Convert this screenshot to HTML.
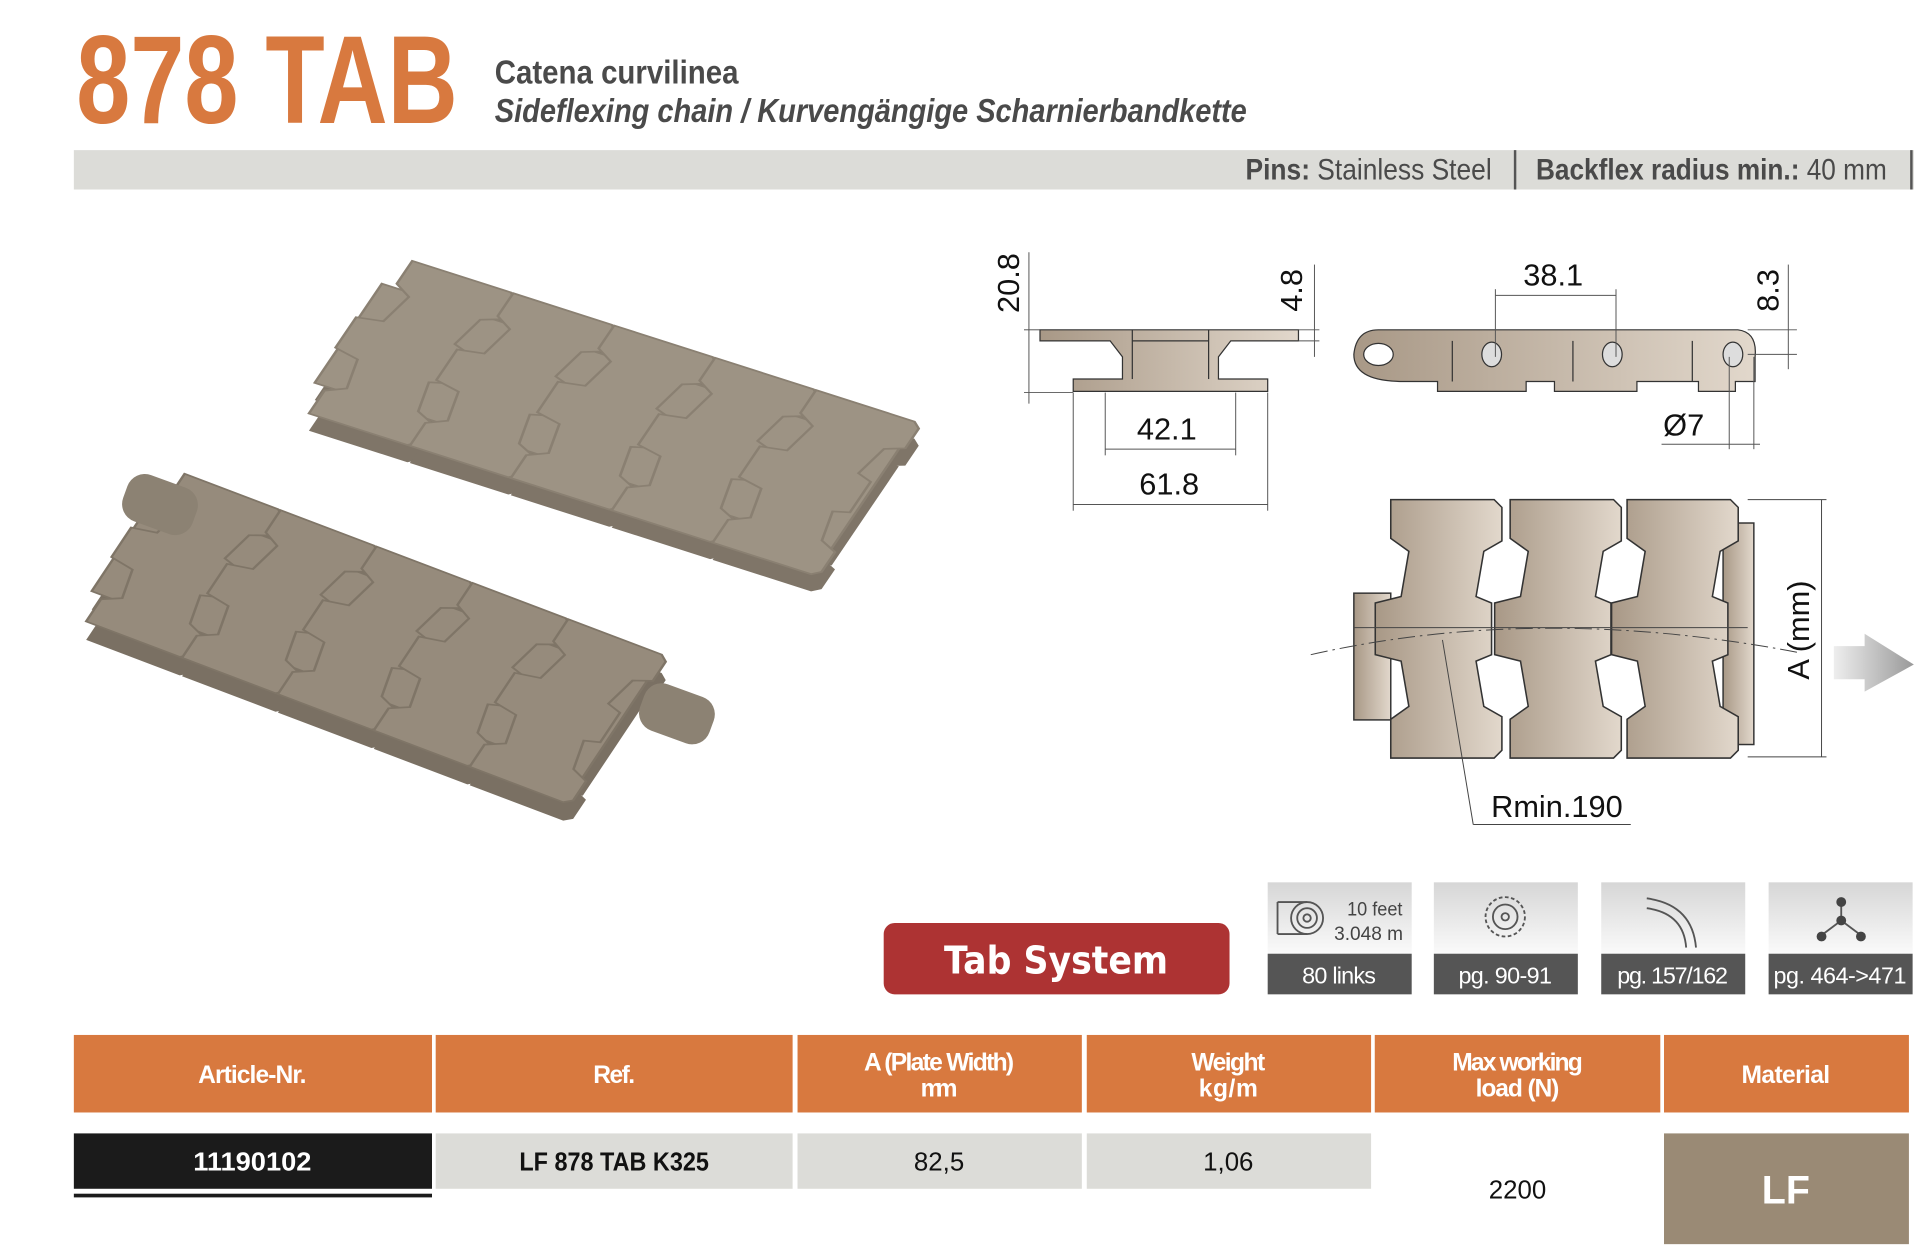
<!DOCTYPE html>
<html><head><meta charset="utf-8"><style>
html,body{margin:0;padding:0;background:#fff;}
svg{display:block}
.c{font-family:"Liberation Sans Narrow","Liberation Sans",sans-serif;}
.d{font-family:"Liberation Sans",sans-serif;fill:#111;font-size:25px;}
</style></head><body>
<svg width="1920" height="1254" viewBox="0 0 1560 1019" preserveAspectRatio="none" xmlns="http://www.w3.org/2000/svg">
<defs>
<path id="pl" d="M0,0 H80 L86,6 V32 L72,40 L66,75 L78,80 V120 L66,125 L72,160 L86,168 V194 L80,200 H0 V170 L14,160 L8,125 L-12,120 V80 L8,75 L14,40 L0,30 Z"/>
<g id="chain">
<rect x="-10" y="35" width="420" height="130" />
<use href="#pl" x="0"/><use href="#pl" x="82"/><use href="#pl" x="164"/><use href="#pl" x="246"/><use href="#pl" x="328"/>
</g>
<linearGradient id="pg" x1="0" x2="1"><stop offset="0" stop-color="#a89886"/><stop offset="1" stop-color="#e2d8cc"/></linearGradient>
<linearGradient id="ig" x1="0" y1="0" x2="0" y2="1"><stop offset="0" stop-color="#d6d6d6"/><stop offset="1" stop-color="#fafafa"/></linearGradient>
<linearGradient id="ag" x1="0" x2="1"><stop offset="0" stop-color="#eee"/><stop offset="1" stop-color="#999"/></linearGradient>
</defs>

<!-- header -->
<text x="62" y="100" class="c" font-weight="bold" font-size="102" fill="#D8793F" textLength="310" lengthAdjust="spacingAndGlyphs">878 TAB</text>
<text x="402" y="68" class="c" font-weight="bold" font-size="27" fill="#4a4a4a" textLength="198" lengthAdjust="spacingAndGlyphs">Catena curvilinea</text>
<text x="402" y="99" class="c" font-weight="bold" font-style="italic" font-size="27" fill="#4a4a4a" textLength="611" lengthAdjust="spacingAndGlyphs">Sideflexing chain / Kurvengängige Scharnierbandkette</text>
<rect x="60" y="122" width="1495" height="32" fill="#dcdcd8"/>
<text x="1212" y="146" class="c" font-size="24" fill="#4a4a4a" text-anchor="end" textLength="200" lengthAdjust="spacingAndGlyphs"><tspan font-weight="bold">Pins:</tspan> Stainless Steel</text>
<rect x="1230" y="122" width="2" height="32" fill="#555"/>
<text x="1248" y="146" class="c" font-size="24" fill="#4a4a4a" textLength="285" lengthAdjust="spacingAndGlyphs"><tspan font-weight="bold">Backflex radius min.:</tspan> 40 mm</text>
<rect x="1552" y="122" width="2" height="32" fill="#555"/>

<!-- photo top chain -->
<g transform="matrix(1.0,0.32,-0.42,0.62,335,226)" fill="#7f7568"><use href="#chain"/></g>
<g transform="matrix(1.0,0.32,-0.42,0.62,335,212)" fill="#9d9384" stroke="#8a8072" stroke-width="2"><use href="#chain"/></g>
<!-- photo bottom chain -->
<g transform="matrix(0.95,0.36,-0.4,0.6,150,400)" fill="#7a7063"><use href="#chain"/></g>
<g transform="matrix(0.95,0.36,-0.4,0.6,150,385)" fill="#968b7c" stroke="#7f7567" stroke-width="2"><use href="#chain"/></g>
<g fill="#8c8273">
<rect x="100" y="390" width="60" height="40" rx="15" transform="rotate(20 130 410)"/>
<rect x="520" y="560" width="60" height="40" rx="15" transform="rotate(20 550 580)"/>
</g>

<!-- left cross-section -->
<g stroke="#333" stroke-width="1" fill="url(#pg)">
<path d="M845,268 H1055 V277 H1000 L990,290 V308 H1030 V318 H872 V308 H912 V290 L902,277 H845 Z"/>
<line x1="920" y1="277" x2="982" y2="277"/><line x1="920" y1="268" x2="920" y2="308"/><line x1="982" y1="268" x2="982" y2="308"/>
</g>
<g stroke="#555" stroke-width="0.8" fill="none">
<line x1="836" y1="205" x2="836" y2="328"/><line x1="832" y1="268" x2="845" y2="268"/><line x1="832" y1="319" x2="872" y2="319"/>
<line x1="1068" y1="215" x2="1068" y2="290"/><line x1="1055" y1="268" x2="1072" y2="268"/><line x1="1055" y1="277" x2="1072" y2="277"/>
<line x1="872" y1="319" x2="872" y2="415"/><line x1="1030" y1="319" x2="1030" y2="415"/>
<line x1="898" y1="319" x2="898" y2="370"/><line x1="1004" y1="319" x2="1004" y2="370"/>
<line x1="898" y1="365" x2="1004" y2="365"/><line x1="872" y1="410" x2="1030" y2="410"/>
</g>
<text class="d" transform="translate(828,230) rotate(-90)" text-anchor="middle">20.8</text>
<text class="d" transform="translate(1058,236) rotate(-90)" text-anchor="middle">4.8</text>
<text class="d" x="948" y="357" text-anchor="middle">42.1</text>
<text class="d" x="950" y="402" text-anchor="middle">61.8</text>

<!-- right side view -->
<g stroke="#333" stroke-width="1" fill="url(#pg)">
<path d="M1120,268 H1412 Q1428,270 1426,290 V310 H1410 V318 H1380 V310 H1330 V318 H1263 V310 H1240 V318 H1168 V310 H1140 Q1100,310 1100,288 Q1102,268 1120,268 Z"/>
<ellipse cx="1120" cy="288" rx="12" ry="9" fill="#fff"/>
<ellipse cx="1212" cy="288" rx="8" ry="10" fill="#ddd"/><ellipse cx="1310" cy="288" rx="8" ry="10" fill="#ddd"/><ellipse cx="1408" cy="288" rx="8" ry="10" fill="#ddd"/>
<line x1="1180" y1="277" x2="1180" y2="310"/><line x1="1278" y1="277" x2="1278" y2="310"/><line x1="1375" y1="277" x2="1375" y2="310"/>
</g>
<g stroke="#555" stroke-width="0.8" fill="none">
<line x1="1215" y1="235" x2="1215" y2="290"/><line x1="1313" y1="235" x2="1313" y2="290"/><line x1="1215" y1="240" x2="1313" y2="240"/>
<line x1="1453" y1="215" x2="1453" y2="300"/><line x1="1420" y1="268" x2="1460" y2="268"/><line x1="1420" y1="288" x2="1460" y2="288"/>
<line x1="1405" y1="290" x2="1405" y2="365"/><line x1="1425" y1="290" x2="1425" y2="365"/><line x1="1350" y1="361" x2="1430" y2="361"/>
</g>
<text class="d" x="1262" y="232" text-anchor="middle">38.1</text>
<text class="d" transform="translate(1445,236) rotate(-90)" text-anchor="middle">8.3</text>
<text class="d" x="1368" y="354" text-anchor="middle">Ø7</text>

<!-- plan view -->
<g stroke="#333" stroke-width="1.2" fill="url(#pg)">
<rect x="1100" y="482" width="30" height="103"/>
<rect x="1400" y="425" width="25" height="180"/>
<use href="#pl" transform="translate(1130,406) scale(1.05,1.05)"/>
<use href="#pl" transform="translate(1227,406) scale(1.05,1.05)"/>
<use href="#pl" transform="translate(1322,406) scale(1.05,1.05)"/>
</g>
<g stroke="#444" stroke-width="0.8" fill="none">
<path d="M1065,532 Q1250,490 1460,530" stroke-dasharray="14,4,2,4"/>
<line x1="1100" y1="510" x2="1420" y2="510"/>
<line x1="1480" y1="406" x2="1480" y2="615"/><line x1="1420" y1="406" x2="1484" y2="406"/><line x1="1420" y1="615" x2="1484" y2="615"/>
<line x1="1172" y1="520" x2="1197" y2="670"/><line x1="1197" y1="670" x2="1325" y2="670"/>
</g>
<text class="d" transform="translate(1470,512) rotate(-90)" text-anchor="middle">A (mm)</text>
<path d="M1490,525 H1515 V515 L1555,540 L1515,562 V552 H1490 Z" fill="url(#ag)"/>
<text class="d" x="1265" y="664" text-anchor="middle">Rmin.190</text>

<!-- tab system -->
<rect x="718" y="750" width="281" height="58" rx="9" fill="#AD3333"/>
<text x="858" y="791" font-family="'DejaVu Sans','Liberation Sans',sans-serif" font-weight="bold" font-size="31" fill="#fff" text-anchor="middle" textLength="182" lengthAdjust="spacingAndGlyphs">Tab System</text>

<!-- icons -->
<g>
<rect x="1030" y="717" width="117" height="58" fill="url(#ig)"/><rect x="1030" y="775" width="117" height="33" fill="#555"/>
<rect x="1165" y="717" width="117" height="58" fill="url(#ig)"/><rect x="1165" y="775" width="117" height="33" fill="#555"/>
<rect x="1301" y="717" width="117" height="58" fill="url(#ig)"/><rect x="1301" y="775" width="117" height="33" fill="#555"/>
<rect x="1437" y="717" width="117" height="58" fill="url(#ig)"/><rect x="1437" y="775" width="117" height="33" fill="#555"/>
</g>
<g stroke="#555" fill="none" stroke-width="1.5">
<circle cx="1062" cy="746" r="13"/><circle cx="1062" cy="746" r="8"/><circle cx="1062" cy="746" r="3"/><path d="M1038,733 H1062 M1038,759 H1062 M1038,733 V759"/>
<circle cx="1223" cy="745" r="16" stroke-dasharray="3,2"/><circle cx="1223" cy="745" r="10"/><circle cx="1223" cy="745" r="3"/>
<path d="M1338,730 Q1375,735 1378,770 M1338,738 Q1368,742 1370,770"/>
<line x1="1496" y1="735" x2="1496" y2="748"/><line x1="1496" y1="748" x2="1480" y2="760"/><line x1="1496" y1="748" x2="1512" y2="760"/>
</g>
<g fill="#444"><circle cx="1496" cy="733" r="4"/><circle cx="1496" cy="748" r="4"/><circle cx="1480" cy="761" r="4"/><circle cx="1512" cy="761" r="4"/></g>
<text x="1117" y="744" class="c" font-size="16" fill="#444" text-anchor="middle" textLength="45" lengthAdjust="spacingAndGlyphs">10 feet</text>
<text x="1112" y="764" class="c" font-size="16" fill="#444" text-anchor="middle" textLength="56" lengthAdjust="spacingAndGlyphs">3.048 m</text>
<g class="c" font-size="19" fill="#fff" text-anchor="middle" lengthAdjust="spacingAndGlyphs">
<text x="1088" y="799" textLength="60">80 links</text><text x="1223" y="799" textLength="76">pg. 90-91</text><text x="1359" y="799" textLength="90">pg. 157/162</text><text x="1495" y="799" textLength="108">pg. 464-&gt;471</text>
</g>

<!-- table -->
<g fill="#D8793F">
<rect x="60" y="841" width="291" height="63"/><rect x="354" y="841" width="290" height="63"/><rect x="648" y="841" width="231" height="63"/>
<rect x="883" y="841" width="231" height="63"/><rect x="1117" y="841" width="232" height="63"/><rect x="1352" y="841" width="199" height="63"/>
</g>
<g class="c" font-weight="bold" font-size="20" fill="#fff" text-anchor="middle" lengthAdjust="spacingAndGlyphs">
<text x="205" y="880" textLength="88">Article-Nr.</text><text x="499" y="880" textLength="34">Ref.</text>
<text x="763" y="870" textLength="122">A (Plate Width)</text><text x="763" y="891" textLength="30">mm</text>
<text x="998" y="870" textLength="60">Weight</text><text x="998" y="891" textLength="48">kg/m</text>
<text x="1233" y="870" textLength="106">Max working</text><text x="1233" y="891" textLength="68">load (N)</text>
<text x="1451" y="880" textLength="72">Material</text>
</g>
<rect x="60" y="921" width="291" height="45" fill="#1b1b1b"/>
<rect x="60" y="970" width="291" height="3" fill="#1b1b1b"/>
<rect x="354" y="921" width="290" height="45" fill="#dcdcd8"/><rect x="648" y="921" width="231" height="45" fill="#dcdcd8"/><rect x="883" y="921" width="231" height="45" fill="#dcdcd8"/>
<rect x="1352" y="921" width="199" height="90" fill="#9a8a75"/>
<text x="205" y="951" class="c" font-weight="bold" font-size="21" fill="#fff" text-anchor="middle" textLength="96" lengthAdjust="spacingAndGlyphs">11190102</text>
<text x="499" y="951" class="c" font-weight="bold" font-size="21" fill="#111" text-anchor="middle" textLength="154" lengthAdjust="spacingAndGlyphs">LF 878 TAB K325</text>
<text x="763" y="951" class="c" font-size="21" fill="#111" text-anchor="middle">82,5</text>
<text x="998" y="951" class="c" font-size="21" fill="#111" text-anchor="middle">1,06</text>
<text x="1233" y="974" class="c" font-size="21" fill="#111" text-anchor="middle">2200</text>
<text x="1451" y="978" class="c" font-weight="bold" font-size="32" fill="#fff" text-anchor="middle">LF</text>
<rect x="60" y="1020" width="1491" height="2" fill="#555"/>
</svg>
</body></html>
